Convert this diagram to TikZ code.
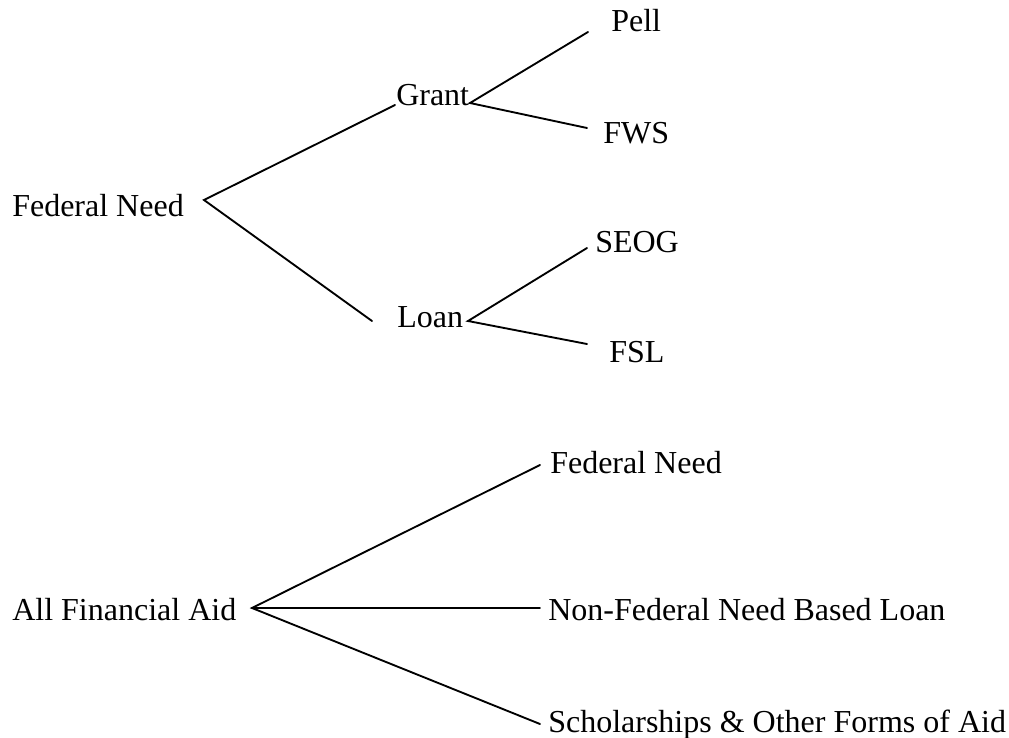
\documentclass[tikz,border=0pt]{standalone}
\usepackage{fontspec}
\setmainfont{Liberation Serif}

\tikzset{
  lbl/.style = {font=\fontsize{24}{28}\selectfont, inner sep=0pt, anchor=base west},
  branch/.style = {line width=1.4pt, line cap=round},
}

\begin{document}
\begin{tikzpicture}[x=0.75pt, y=-0.75pt]
  \useasboundingbox (0,0) rectangle (1009,738);

  % federal need tree
  \node[lbl] (fn)    at (12,216)  {Federal Need};
  \node[lbl] (grant) at (396,106) {Grant};
  \node[lbl] (loan)  at (397,327) {Loan};
  \node[lbl] (pell)  at (611,32)  {Pell};
  \node[lbl] (fws)   at (603,143) {FWS};
  \node[lbl] (seog)  at (595,252) {SEOG};
  \node[lbl] (fsl)   at (609,362) {FSL};

  \coordinate (fn-fork)    at (204,200);
  \coordinate (grant-fork) at (470,103);
  \coordinate (loan-fork)  at (468,321);
  \coordinate (grant-in)   at (395,105);
  \coordinate (loan-in)    at (372,321);
  \coordinate (pell-in)    at (588,32);
  \coordinate (fws-in)     at (587,128);
  \coordinate (seog-in)    at (587,248);
  \coordinate (fsl-in)     at (587,344);

  \draw[branch] (grant-in) -- (fn-fork) -- (loan-in);
  \draw[branch] (pell-in) -- (grant-fork) -- (fws-in);
  \draw[branch] (seog-in) -- (loan-fork) -- (fsl-in);

  % all financial aid tree
  \node[lbl] (aid)    at (12,620)  {All Financial Aid};
  \node[lbl] (fed)    at (550,473) {Federal Need};
  \node[lbl] (nonfed) at (548,620) {Non-Federal Need Based Loan};
  \node[lbl] (schol)  at (548,732) {Scholarships \& Other Forms of Aid};

  \coordinate (aid-fork)  at (252,608);
  \coordinate (fed-in)    at (540,465);
  \coordinate (nonfed-in) at (540,608);
  \coordinate (schol-in)  at (540,724);

  \draw[branch] (fed-in) -- (aid-fork) -- (schol-in);
  \draw[branch] (aid-fork) -- (nonfed-in);
\end{tikzpicture}
\end{document}
